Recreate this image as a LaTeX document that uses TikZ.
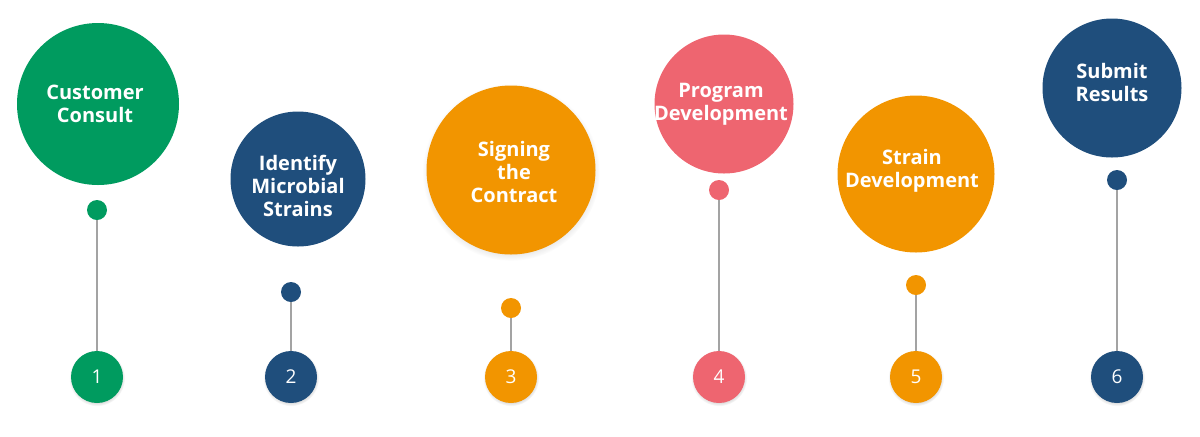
\documentclass[tikz,border=0pt]{standalone}
\usepackage{fontspec}
\setmainfont{Open Sans}
\usetikzlibrary{positioning,shadows}
\definecolor{stepgreen}{HTML}{009B5F}
\definecolor{stepblue}{HTML}{1F4E7C}
\definecolor{steporange}{HTML}{F29500}
\definecolor{steppink}{HTML}{EE6570}
\definecolor{stemgray}{HTML}{A3A3A3}

\begin{document}
\begin{tikzpicture}[x=0.5pt,y=-0.5pt,
      bubble/.style={circle,inner sep=0pt},
      bubtext/.style={text=white,align=center,inner sep=0pt,
                      font=\bfseries\fontsize{10}{11.5}\selectfont},
      knob/.style={circle,inner sep=0pt,minimum size=10pt},
      numdot/.style={circle,inner sep=0pt,minimum size=26pt,text=white,
                     font=\fontsize{9.5}{11}\selectfont,
                     circular drop shadow={shadow xshift=0pt,shadow yshift=-0.5pt,
                                           shadow scale=1.08,opacity=0.3}},
      stem/.style={draw=stemgray,line width=1pt}]
    \useasboundingbox (0,0) rectangle (1200,436);
    % big bubbles
    \node[bubble,fill=stepgreen,minimum size=81pt,
          label={[bubtext,xshift=-1.5pt]center:Customer\\Consult}] (consult) at (98,104) {};
    \node[bubble,fill=stepblue,minimum size=67.5pt,
          label={[bubtext,yshift=-3.5pt]center:Identify\\Microbial\\Strains}] (strains) at (298,179) {};
    \node[bubble,fill=steporange,minimum size=84.5pt,
          circular drop shadow={shadow xshift=0pt,shadow yshift=-1pt,shadow scale=1.05,opacity=0.3},
          label={[bubtext,xshift=1.5pt,yshift=-1pt]center:Signing\\the\\Contract}] (contract) at (511,170) {};
    \node[bubble,fill=steppink,minimum size=69.5pt,
          label={[bubtext,xshift=-1.5pt]center:Program\\Development}] (program) at (724,104) {};
    \node[bubble,fill=steporange,minimum size=78.5pt,
          label={[bubtext,xshift=-2pt,yshift=1.5pt]center:Strain\\Development}] (strain) at (916,174) {};
    \node[bubble,fill=stepblue,minimum size=69.5pt,
          label={[bubtext,yshift=3pt]center:Submit\\Results}] (submit) at (1112,88) {};
    % step numbers
    \node[numdot,fill=stepgreen] (n1) at (97,377) {1};
    \node[numdot,fill=stepblue] (n2) at (291,377) {2};
    \node[numdot,fill=steporange] (n3) at (511,377) {3};
    \node[numdot,fill=steppink] (n4) at (719,377) {4};
    \node[numdot,fill=steporange] (n5) at (916,377) {5};
    \node[numdot,fill=stepblue] (n6) at (1117,377) {6};
    % small dots on stems
    \node[knob,fill=stepgreen] (k1) at (97,210) {};
    \node[knob,fill=stepblue] (k2) at (291,292) {};
    \node[knob,fill=steporange] (k3) at (511,308) {};
    \node[knob,fill=steppink] (k4) at (719,190) {};
    \node[knob,fill=steporange] (k5) at (916,285) {};
    \node[knob,fill=stepblue] (k6) at (1117,180) {};
    \draw[stem] (k1)--(n1); \draw[stem] (k2)--(n2); \draw[stem] (k3)--(n3);
    \draw[stem] (k4)--(n4); \draw[stem] (k5)--(n5); \draw[stem] (k6)--(n6);
  \end{tikzpicture}
\end{document}
